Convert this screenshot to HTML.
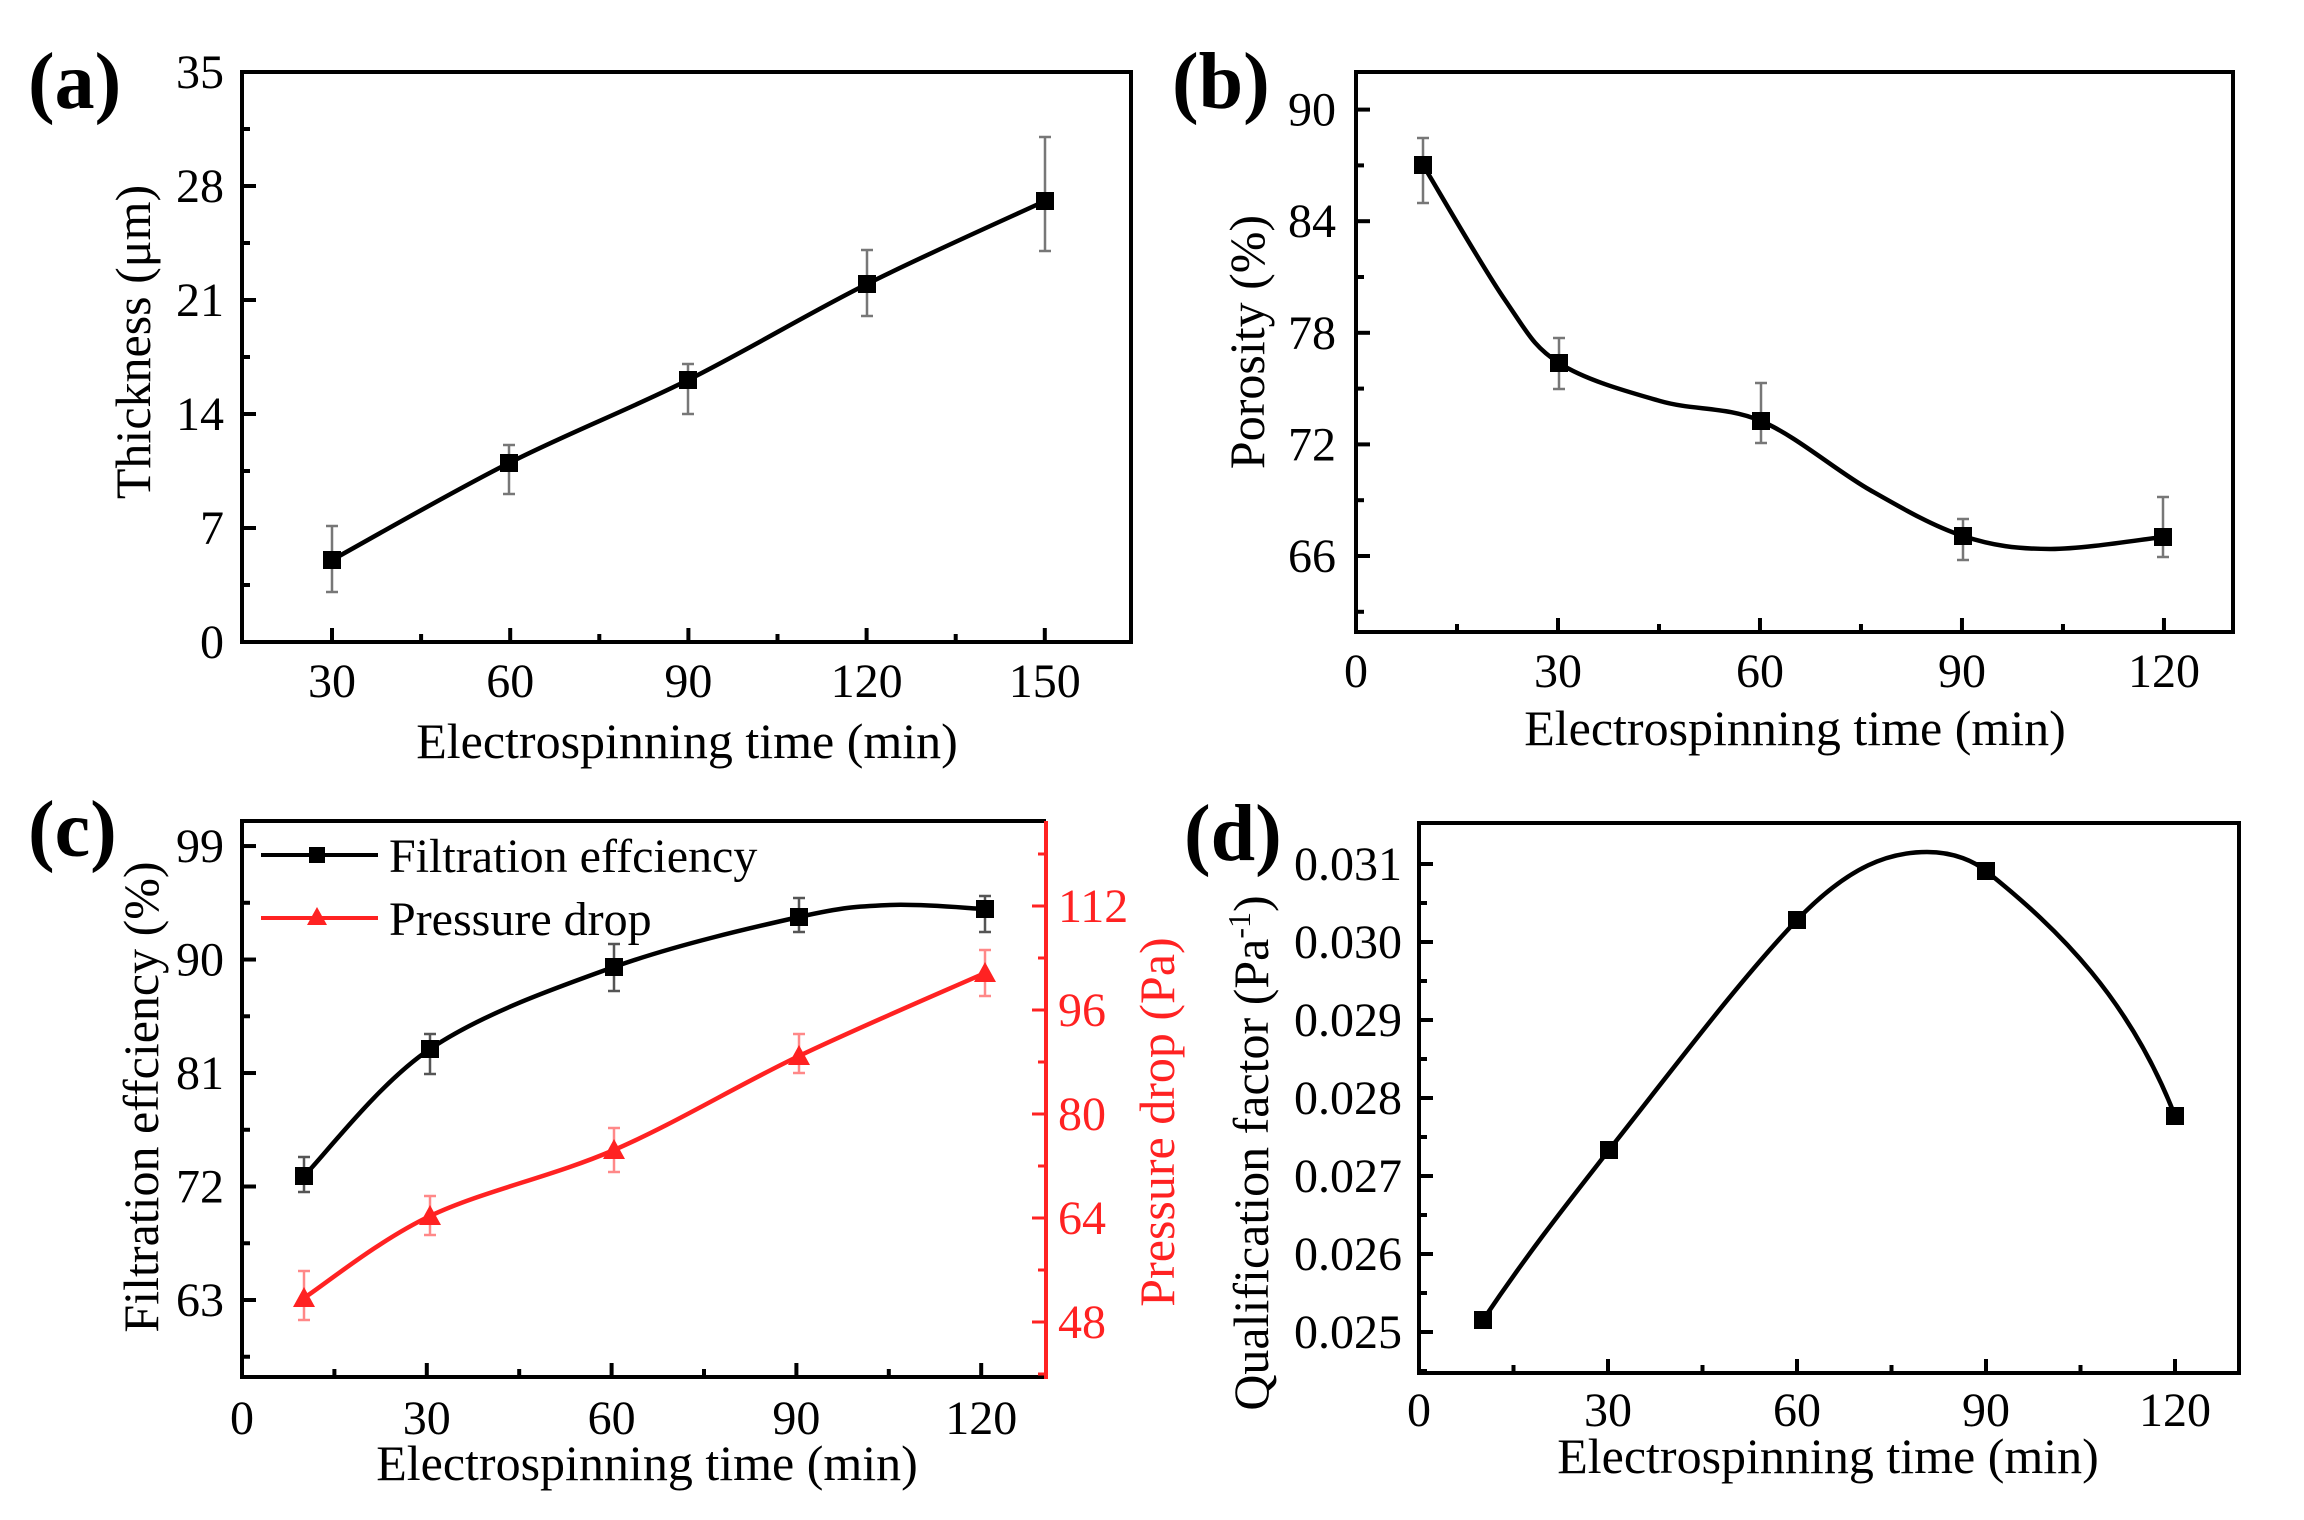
<!DOCTYPE html>
<html><head><meta charset="utf-8">
<style>
html,body{margin:0;padding:0;background:#fff;}
svg{display:block;}
text{font-family:"Liberation Serif",serif;}
</style></head>
<body>
<svg id="s" width="2304" height="1520" viewBox="0 0 2304 1520" xmlns="http://www.w3.org/2000/svg">
<rect width="2304" height="1520" fill="#fff"/>
<g id="g"></g>
<text x="28" y="108" font-size="80" font-weight="bold">(a)</text>
<text x="1172" y="108" font-size="80" font-weight="bold">(b)</text>
<text x="28" y="856" font-size="80" font-weight="bold">(c)</text>
<text x="1184" y="860" font-size="80" font-weight="bold">(d)</text>
<text x="687" y="758" font-size="50" text-anchor="middle">Electrospinning time (min)</text>
<text x="1795" y="745" font-size="50" text-anchor="middle">Electrospinning time (min)</text>
<text x="647" y="1480" font-size="50" text-anchor="middle">Electrospinning time (min)</text>
<text x="1828" y="1473" font-size="50" text-anchor="middle">Electrospinning time (min)</text>
<text transform="translate(150,342) rotate(-90)" font-size="50" text-anchor="middle">Thickness (μm)</text>
<text transform="translate(1264,342) rotate(-90)" font-size="50" text-anchor="middle">Porosity (%)</text>
<text transform="translate(158,1097) rotate(-90)" font-size="50" text-anchor="middle">Filtration effciency (%)</text>
<text transform="translate(1174,1122) rotate(-90)" font-size="50" text-anchor="middle" fill="#f22">Pressure drop (Pa)</text>
<text transform="translate(1268,1153) rotate(-90)" font-size="50" text-anchor="middle">Qualification factor (Pa<tspan dy="-18" font-size="32">-1</tspan><tspan dy="18">)</tspan></text>
<line x1="261" y1="855" x2="378" y2="855" stroke="#000" stroke-width="4"/>
<rect x="309" y="847" width="16" height="16" fill="#000"/>
<text x="389" y="872" font-size="48">Filtration effciency</text>
<line x1="261" y1="918" x2="378" y2="918" stroke="#f22" stroke-width="4"/>
<polygon points="317,907 327,925 307,925" fill="#f22"/>
<text x="389" y="935" font-size="48">Pressure drop</text>
</svg>
<script>
var g=document.getElementById('g'),h='';
function L(x1,y1,x2,y2,c,w){h+='<line x1="'+x1+'" y1="'+y1+'" x2="'+x2+'" y2="'+y2+'" stroke="'+(c||'#000')+'" stroke-width="'+(w||4)+'"/>';}
function T(x,y,s,a,c,fs){h+='<text x="'+x+'" y="'+y+'" font-size="'+(fs||48)+'" text-anchor="'+a+'" fill="'+(c||'#000')+'">'+s+'</text>';}
function box(l,t,r,b){h+='<rect x="'+l+'" y="'+t+'" width="'+(r-l)+'" height="'+(b-t)+'" fill="none" stroke="#000" stroke-width="4"/>';}
function cr(p){var d='M'+p[0][0]+','+p[0][1];for(var i=0;i<p.length-1;i++){var p0=p[i-1]||p[i],p1=p[i],p2=p[i+1],p3=p[i+2]||p2;
d+=' C'+(p1[0]+(p2[0]-p0[0])/6)+','+(p1[1]+(p2[1]-p0[1])/6)+' '+(p2[0]-(p3[0]-p1[0])/6)+','+(p2[1]-(p3[1]-p1[1])/6)+' '+p2[0]+','+p2[1];}
return d;}
function path(d,c){h+='<path d="'+d+'" fill="none" stroke="'+(c||'#000')+'" stroke-width="4.5"/>';}
function sq(x,y){h+='<rect x="'+(x-9)+'" y="'+(y-9)+'" width="18" height="18" fill="#000"/>';}
function tri(x,y){h+='<polygon points="'+x+','+(y-11)+' '+(x+11)+','+(y+9)+' '+(x-11)+','+(y+9)+'" fill="#f22"/>';}
function eb(x,a,b,c){c=c||'#777';L(x,a,x,b,c,2.5);L(x-6,a,x+6,a,c,2.5);L(x-6,b,x+6,b,c,2.5);}
// (a)
box(242,72,1131,642);
for(var i=0;i<=10;i++){var y=642-i*(570/10);L(242,y,242+(i%2?8:14),y);if(i%2==0)T(224,y+16,[0,7,14,21,28,35][i/2],'end');}
for(var i=0;i<=8;i++){var x=332+i*89.1;L(x,642,x,642-(i%2?8:14));if(i%2==0)T(x,697,[30,60,90,120,150][i/2],'middle');}
var pa=[[332,560],[509,463],[688,380],[867,284],[1045,201]],ea=[[526,592],[445,494],[364,414],[250,316],[137,251]];
pa.forEach(function(p,i){eb(p[0],ea[i][0],ea[i][1]);});
path(cr(pa));pa.forEach(function(p){sq(p[0],p[1]);});
// (b)
box(1356,72,2233,632);
for(var k=-1;k<=9;k++){var v=63+k*3;var y=556-(v-66)*18.6;if(y<72||y>632)continue;var maj=(k%2==1||k==-1);maj=((v%6)==0);L(1356,y,1356+(maj?14:8),y);if(maj)T(1336,y+16,v,'end');}
for(var i=0;i<=8;i++){var x=1356+i*15*6.733;L(x,632,x,632-(i%2?8:14));if(i%2==0)T(x,687,i*15,'middle');}
var pb=[[1423,165],[1559,363],[1761,421],[1963,536],[2163,537]],ebb=[[138,203],[338,389],[383,443],[519,560],[497,557]];
pb.forEach(function(p,i){eb(p[0],ebb[i][0],ebb[i][1]);});
path(cr([[1423,165],[1505,300],[1559,363],[1660,401],[1761,421],[1870,490],[1963,536],[2050,549],[2163,537]]));
pb.forEach(function(p){sq(p[0],p[1]);});
// (c)
L(240,821,1046,821);L(242,821,242,1377);L(240,1377,1046,1377);L(1046,821,1046,1379,'#f22',4);
for(var k=-2;k<=9;k++){var v=63+k*4.5;var y=1300-(v-63)*12.61;if(y<821||y>1377)continue;var maj=(k%2==0);L(242,y,242+(maj?14:8),y);if(maj)T(224,y+16,Math.round(v),'end');}
for(var v=40;v<=124;v+=8){var y=1322-(v-48)*6.5;if(y<821||y>1377)continue;var maj=((v-48)%16==0);L(1046,y,1046-(maj?14:8),y,'#f22',3);if(maj)T(1058,y+16,v,'start','#f22');}
for(var i=0;i<=8;i++){var x=242+i*15*6.16;L(x,1377,x,1377-(i%2?8:14));if(i%2==0)T(x,1434,i*15,'middle');}
var xs=[304,430,614,799,985];
var pk=[1176,1049,967,917,909],ek=[[1157,1192],[1034,1074],[944,991],[898,932],[896,932]];
var pr=[1298,1216,1150,1056,973],er=[[1271,1320],[1196,1235],[1128,1172],[1034,1073],[950,996]];
xs.forEach(function(x,i){eb(x,ek[i][0],ek[i][1],'#555');eb(x,er[i][0],er[i][1],'#f88');});
path(cr([[304,1176],[430,1049],[614,967],[799,917],[890,905],[985,909]]));
path(cr(xs.map(function(x,i){return [x,pr[i]];})),'#f22');
xs.forEach(function(x,i){sq(x,pk[i]);tri(x,pr[i]);});
// (d)
box(1419,823,2239,1373);
for(var i=0;i<=13;i++){var y=1332-(i-1)*39;if(y<823||y>1373)continue;var maj=(i%2==1);L(1419,y,1419+(maj?14:8),y);if(maj)T(1402,y+16,'0.0'+(25+(i-1)/2),'end');}
for(var i=0;i<=8;i++){var x=1419+i*15*6.3;L(x,1373,x,1373-(i%2?8:14));if(i%2==0)T(x,1426,i*15,'middle');}
var pd=[[1483,1320],[1609,1150],[1797,920],[1986,871],[2175,1116]];
path('M1483,1320 C1530,1250 1570,1200 1609,1150 C1680,1060 1740,980 1797,920 C1850,865 1890,852 1927,852 C1955,852 1975,862 1986,871 C2060,930 2130,1000 2175,1116');
pd.forEach(function(p){sq(p[0],p[1]);});
g.innerHTML=h;
</script>
</body></html>
